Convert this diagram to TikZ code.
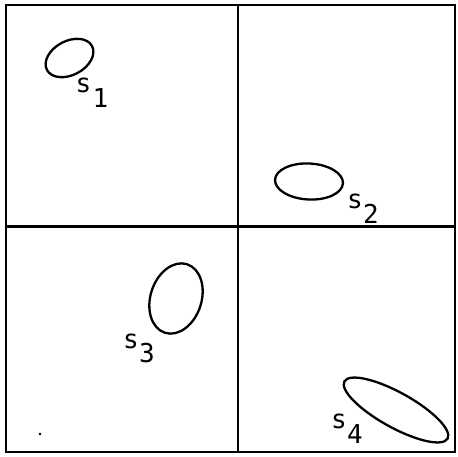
\documentclass[tikz,border=0pt]{standalone}
\usepackage{fontspec}
\newfontfamily\labfont{DejaVu Sans Mono}
\begin{document}
\begin{tikzpicture}[x=1pt,y=-1pt,
  frame/.style={line width=2.5pt},
  blob/.style={line width=2.3pt},
  lab/.style={inner sep=0pt, font=\labfont\fontsize{26}{26}\selectfont}]
\useasboundingbox (0,0) rectangle (458,456);
\fill[white] (0,0) rectangle (458,456);
% frame and dividers
\draw[frame] (6,5) rectangle (455,452);
\draw[frame] (238,5) -- (238,452);
\draw[frame] (6,226.5) -- (455,226.5);
% regions
\draw[blob] (69.5,58) ellipse[x radius=25.5, y radius=17, rotate=28];
\draw[blob] (309,181.5) ellipse[x radius=34, y radius=18, rotate=-3];
\draw[blob] (176,298.5) ellipse[x radius=36, y radius=25.5, rotate=72];
\draw[blob] (396,410) ellipse[x radius=59, y radius=17.5, rotate=-29];
% labels
\node[lab] (s1) at (83.5,85.5) {s};
\node[lab] (n1) at (100.5,98) {1};
\node[lab] (s2) at (355,201.5) {s};
\node[lab] (n2) at (371,213.5) {2};
\node[lab] (s3) at (131,341) {s};
\node[lab] (n3) at (147,353) {3};
\node[lab] (s4) at (339,421.5) {s};
\node[lab] (n4) at (355,434.5) {4};
% speck
\fill (40,434) circle[radius=1.4];
\end{tikzpicture}
\end{document}
